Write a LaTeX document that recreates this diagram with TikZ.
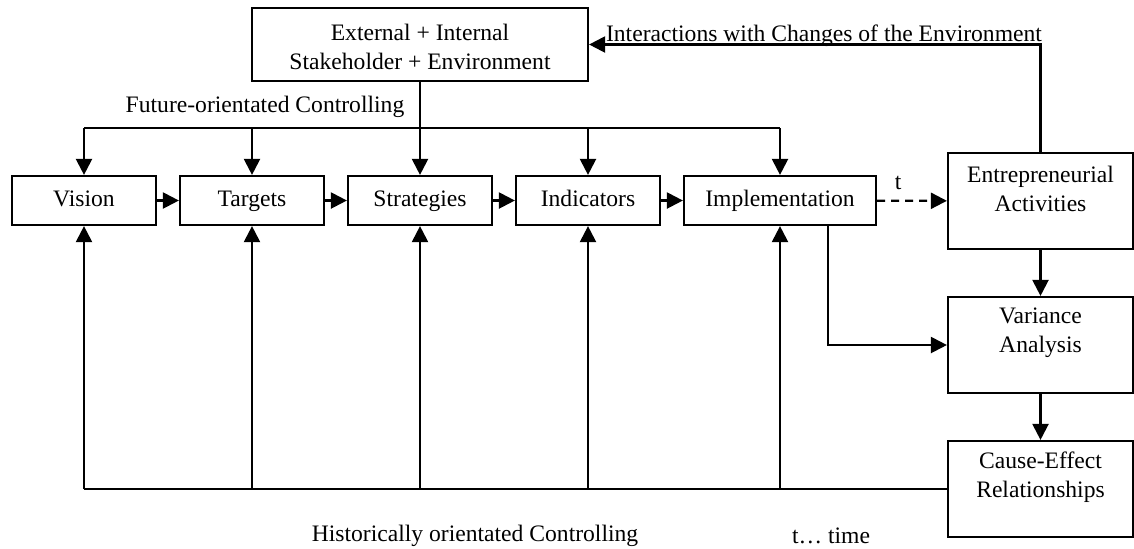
\documentclass[tikz,border=0pt]{standalone}
\usepackage{fontspec}
\setmainfont{Liberation Serif}
\usetikzlibrary{arrows.meta}
\begin{document}
\begin{tikzpicture}[x=0.5pt,y=-0.5pt,
  font=\fontsize{11.8pt}{14.5pt}\selectfont,
  line width=1.1pt,
  arr/.style={-{Triangle[length=8pt,width=8pt]}},
  box/.style={draw,line width=1.1pt,inner sep=0pt,align=center},
  rowbox/.style={box,minimum width=72pt,minimum height=24.5pt,text height=8pt,text depth=2.5pt},
  sidebox/.style={box,minimum width=92.5pt,minimum height=48pt},
  lbl/.style={inner sep=0pt,align=center}]
\useasboundingbox (0,0) rectangle (1134,548);

% environment box
\node[box,minimum width=168pt,minimum height=36.5pt] (env) at (420,44.5) {};
\node[lbl] (envtext) at ([yshift=-1pt]env.center) {External + Internal\\Stakeholder + Environment};

% planning chain
\node[rowbox] (vision) at (84,200.5) {Vision};
\node[rowbox] (targets) at (252,200.5) {Targets};
\node[rowbox] (strategies) at (420,200.5) {Strategies};
\node[rowbox] (indicators) at (588,200.5) {Indicators};
\node[rowbox,minimum width=96pt] (impl) at (780,200.5) {Implementation};

% control boxes on the right
\node[sidebox] (ent) at (1040.5,201) {};
\node[lbl] (enttext) at ([yshift=-18.5pt]ent.north) {Entrepreneurial\\Activities};
\node[sidebox] (var) at (1040.5,345) {};
\node[lbl] (vartext) at ([yshift=-18.5pt]var.north) {Variance\\Analysis};
\node[sidebox] (cause) at (1040.5,489) {};
\node[lbl] (causetext) at ([yshift=-18.5pt]cause.north) {Cause-Effect\\Relationships};

% future-oriented distribution bus
\coordinate (fbus) at (420,128);
\draw (env.south) -- (fbus);
\draw (fbus -| vision.north) -- (fbus -| impl.north);
\foreach \n in {vision,targets,strategies,indicators,impl}
  \draw[arr] (fbus -| \n.north) -- (\n.north);

% chain arrows
\draw[arr] (vision) -- (targets);
\draw[arr] (targets) -- (strategies);
\draw[arr] (strategies) -- (indicators);
\draw[arr] (indicators) -- (impl);
\draw[arr,dashed,dash pattern=on 4pt off 3pt] (impl) -- node[pos=0.3,above=5pt,lbl] (tlabel) {t} (ent);

% right-hand control loop
\draw[arr] (ent) -- (var);
\draw[arr] (var) -- (cause);
\draw[arr] ([xshift=24pt]impl.south) |- (var.west);
\draw[arr] (ent.north) |- (env.east);

% historical feedback bus
\draw (cause.west) -- (cause.west -| vision.south);
\foreach \n in {vision,targets,strategies,indicators,impl}
  \draw[arr] (cause.west -| \n.south) -- (\n.south);

% labels
\node[lbl,anchor=base] (ilabel) at (824,41) {Interactions with Changes of the Environment};
\node[lbl,anchor=base] (flabel) at (265,112) {Future-orientated Controlling};
\node[lbl] (hlabel) at (475,536) {Historically orientated Controlling};
\node[lbl] (timelabel) at (831,536) {t… time};
\end{tikzpicture}
\end{document}
